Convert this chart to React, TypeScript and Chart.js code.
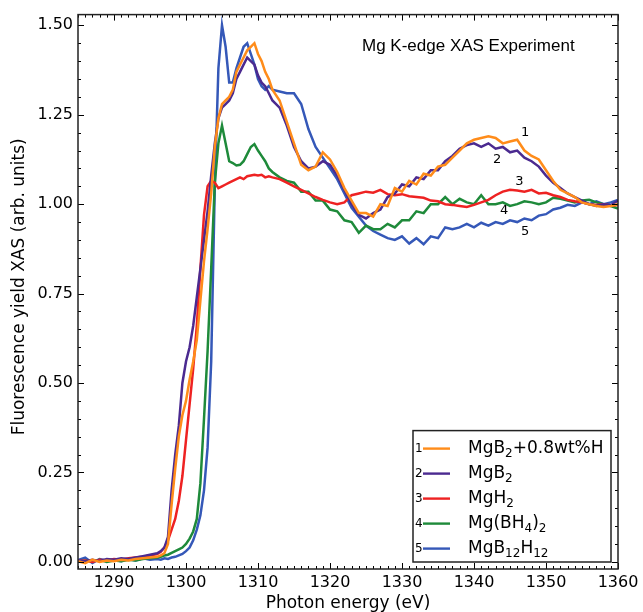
import React, { useEffect, useRef } from "react";
import { Chart, registerables } from "chart.js";

Chart.register(...registerables);

// Photon energy grid (eV)
const energy = [
  1285, 1286, 1287, 1288, 1289, 1290, 1291, 1292, 1293, 1294, 1295,
  1296, 1296.5, 1297, 1297.5, 1298, 1298.5, 1299, 1299.5, 1300, 1300.5, 1301, 1301.5, 1302, 1302.5, 1303, 1303.5,
  1304, 1304.5, 1305, 1305.5, 1306, 1306.5, 1307, 1307.5, 1308, 1308.5, 1309, 1309.5, 1310, 1310.5, 1311, 1311.5, 1312,
  1313, 1314, 1315, 1316, 1317, 1318, 1319, 1320, 1321, 1322, 1323, 1324,
  1325, 1326, 1327, 1328, 1329, 1330, 1331, 1332, 1333, 1334, 1335, 1336,
  1337, 1338, 1339, 1340, 1341, 1342, 1343, 1344, 1345, 1346, 1347, 1348,
  1349, 1350, 1351, 1352, 1353, 1354, 1355, 1356, 1357, 1358, 1359, 1360,
];

// 1: MgB2+0.8wt%H (orange)
const yieldMgB2H = [
  0.002, -0.004, 0.006, 0.0, 0.004, 0.002, 0.006, 0.004, 0.008, 0.01, 0.012,
  0.014, 0.018, 0.024, 0.05, 0.16, 0.26, 0.35, 0.41, 0.45, 0.51, 0.56, 0.62, 0.73, 0.84, 0.93, 1.03,
  1.16, 1.24, 1.28, 1.29, 1.3, 1.32, 1.37, 1.39, 1.41, 1.43, 1.44, 1.45, 1.42, 1.4, 1.37, 1.35, 1.32,
  1.29, 1.23, 1.17, 1.11, 1.095, 1.105, 1.145, 1.125, 1.09, 1.045, 1.01, 0.975,
  0.975, 0.965, 1.0, 0.995, 1.045, 1.035, 1.065, 1.055, 1.085, 1.08, 1.105, 1.11,
  1.13, 1.15, 1.17, 1.18, 1.185, 1.19, 1.185, 1.17, 1.175, 1.18, 1.15, 1.135,
  1.125, 1.095, 1.065, 1.04, 1.03, 1.02, 1.005, 1.0, 0.995, 0.992, 0.995, 1.0,
];

// 2: MgB2 (purple)
const yieldMgB2 = [
  0.004, 0.002, 0.006, 0.002, 0.008, 0.006, 0.01, 0.008, 0.012, 0.016, 0.02,
  0.024, 0.03, 0.04, 0.07, 0.2, 0.3, 0.38, 0.5, 0.56, 0.6, 0.66, 0.74, 0.82, 0.9, 0.98, 1.08,
  1.17, 1.24, 1.27, 1.28, 1.29, 1.31, 1.35, 1.37, 1.39, 1.41, 1.4, 1.39, 1.36, 1.34, 1.33, 1.31, 1.29,
  1.27, 1.22, 1.16, 1.12, 1.1, 1.105, 1.12, 1.11, 1.08, 1.04, 1.0, 0.97,
  0.96, 0.975, 0.985, 1.02, 1.03, 1.055, 1.05, 1.075, 1.07, 1.095, 1.095, 1.12,
  1.135, 1.155, 1.165, 1.17, 1.16, 1.17, 1.155, 1.16, 1.145, 1.15, 1.13, 1.12,
  1.105, 1.08, 1.06, 1.045, 1.03, 1.02, 1.01, 1.0, 0.995, 1.0, 0.997, 1.01,
];

// 3: MgH2 (red)
const yieldMgH2 = [
  0.002, 0.004, 0.0, 0.006, 0.004, 0.008, 0.006, 0.01, 0.012, 0.014, 0.018,
  0.022, 0.028, 0.04, 0.06, 0.09, 0.12, 0.17, 0.24, 0.34, 0.44, 0.54, 0.66, 0.82, 0.97, 1.05, 1.065,
  1.06, 1.045, 1.05, 1.055, 1.06, 1.065, 1.07, 1.075, 1.07, 1.078, 1.08, 1.082, 1.08, 1.082, 1.075, 1.078, 1.075,
  1.07, 1.06, 1.05, 1.04, 1.03, 1.02, 1.012, 1.005, 1.0, 1.005, 1.025, 1.03,
  1.035, 1.032, 1.04, 1.028, 1.025, 1.028, 1.022, 1.02, 1.018, 1.01, 1.008, 1.0,
  0.998, 0.995, 0.992, 0.998, 1.005, 1.012, 1.025, 1.035, 1.04, 1.038, 1.035, 1.04,
  1.03, 1.032, 1.025, 1.02, 1.012, 1.008, 1.005, 1.0, 0.998, 1.0, 0.996, 0.998,
];

// 4: Mg(BH4)2 (green)
const yieldMgBH4 = [
  0.0, 0.004, 0.002, 0.006, 0.0, 0.004, 0.002, 0.006, 0.004, 0.008, 0.01,
  0.012, 0.014, 0.018, 0.02, 0.025, 0.03, 0.035, 0.04, 0.05, 0.065, 0.085, 0.12, 0.22, 0.4, 0.59, 0.82,
  1.06, 1.17, 1.22, 1.17, 1.12, 1.115, 1.108, 1.11, 1.12, 1.14, 1.16, 1.168, 1.15, 1.135, 1.12, 1.1, 1.09,
  1.075, 1.065, 1.06, 1.035, 1.035, 1.01, 1.01, 0.985, 0.98, 0.955, 0.95, 0.92,
  0.94, 0.93, 0.93, 0.945, 0.935, 0.955, 0.955, 0.98, 0.975, 1.0, 1.0, 1.02,
  1.0, 1.015, 1.005, 1.0, 1.025, 1.0, 1.0, 1.005, 0.995, 1.0, 1.008, 1.005,
  1.0, 1.005, 1.018, 1.015, 1.01, 1.005, 1.01, 1.012, 1.005, 1.0, 0.995, 0.988,
];

// 5: MgB12H12 (blue)
const yieldMgB12H12 = [
  0.005, 0.012, -0.003, 0.008, 0.004, 0.006, 0.002, 0.008, 0.004, 0.01, 0.006,
  0.008, 0.006, 0.01, 0.008, 0.012, 0.014, 0.018, 0.022, 0.03, 0.04, 0.06, 0.09, 0.13, 0.2, 0.32, 0.56,
  1.05, 1.38, 1.5, 1.44, 1.34, 1.34, 1.38, 1.41, 1.44, 1.45, 1.42, 1.39, 1.35, 1.33, 1.32, 1.33, 1.32,
  1.315, 1.31, 1.31, 1.28, 1.21, 1.16, 1.13, 1.1, 1.07, 1.03, 0.99, 0.965,
  0.94, 0.925, 0.915, 0.905, 0.9, 0.91, 0.89, 0.905, 0.888, 0.91, 0.905, 0.935,
  0.93, 0.935, 0.945, 0.935, 0.948, 0.94, 0.95, 0.945, 0.955, 0.95, 0.96, 0.955,
  0.968, 0.972, 0.985, 0.99, 0.998, 0.995, 1.005, 1.0, 1.008, 1.0, 1.005, 1.012,
];

const xTicks = [1290, 1300, 1310, 1320, 1330, 1340, 1350, 1360];
const yTicks = [0, 0.25, 0.5, 0.75, 1.0, 1.25, 1.5];

const seriesColors = ["#ff8c1a", "#4b2a90", "#ee2222", "#1e8a3a", "#3558b8"];
const seriesNumbers = ["1", "2", "3", "4", "5"];
// legend label runs: [text, isSubscript]
const legendLabels: [string, boolean][][] = [
  [["MgB", false], ["2", true], ["+0.8wt%H", false]],
  [["MgB", false], ["2", true]],
  [["MgH", false], ["2", true]],
  [["Mg(BH", false], ["4", true], [")", false], ["2", true]],
  [["MgB", false], ["12", true], ["H", false], ["12", true]],
];
// curve number annotations in data coordinates
const curveLabelEnergy = [1347.1, 1343.2, 1346.3, 1344.2, 1347.1];
const curveLabelYield = [1.199, 1.124, 1.063, 0.982, 0.923];

const chartTitle = "Mg K-edge XAS Experiment";
const xTitle = "Photon energy (eV)";
const yTitle = "Fluorescence yield XAS (arb. units)";

const FONT = "'DejaVu Sans', sans-serif";

const overlayPlugin = {
  id: "overlay",
  afterDraw(chart: any) {
    const { ctx, chartArea: a, scales } = chart;
    const x = scales.x;
    const y = scales.y;
    ctx.save();

    // inward ticks on all sides
    ctx.strokeStyle = "#000";
    ctx.lineWidth = 1;
    ctx.beginPath();
    for (let e = 1285; e <= 1360; e += 1) {
      const px = Math.round(x.getPixelForValue(e)) + 0.5;
      const len = e % 10 === 0 ? 6 : 3;
      ctx.moveTo(px, a.bottom);
      ctx.lineTo(px, a.bottom - len);
      ctx.moveTo(px, a.top);
      ctx.lineTo(px, a.top + len);
    }
    for (let k = 0; k <= 30; k++) {
      const v = k * 0.05;
      const py = Math.round(y.getPixelForValue(v)) + 0.5;
      const len = k % 5 === 0 ? 6 : 3;
      ctx.moveTo(a.left, py);
      ctx.lineTo(a.left + len, py);
      ctx.moveTo(a.right, py);
      ctx.lineTo(a.right - len, py);
    }
    ctx.stroke();

    // frame
    ctx.lineWidth = 1.5;
    ctx.strokeStyle = "#222";
    ctx.strokeRect(a.left, a.top, a.right - a.left, a.bottom - a.top);

    // title
    ctx.fillStyle = "#000";
    ctx.font = "17px 'Liberation Sans', Arial, sans-serif";
    ctx.textAlign = "left";
    ctx.textBaseline = "middle";
    ctx.fillText(chartTitle, a.left + 284, a.top + 32);

    // curve number labels
    ctx.font = "13px " + FONT;
    ctx.textAlign = "center";
    ctx.textBaseline = "middle";
    for (let i = 0; i < seriesNumbers.length; i++) {
      ctx.fillText(
        seriesNumbers[i],
        x.getPixelForValue(curveLabelEnergy[i]),
        y.getPixelForValue(curveLabelYield[i])
      );
    }

    // axis titles
    ctx.font = "17px " + FONT;
    ctx.textAlign = "center";
    ctx.textBaseline = "middle";
    ctx.fillText(xTitle, (a.left + a.right) / 2, a.bottom + 35);
    ctx.save();
    ctx.translate(20, (a.top + a.bottom) / 2 - 5);
    ctx.rotate(-Math.PI / 2);
    ctx.fillText(yTitle, 0, 0);
    ctx.restore();

    // legend
    const bl = a.right - 205;
    const br = a.right - 7;
    const bt = a.top + 416;
    const bb = a.bottom - 7;
    ctx.fillStyle = "#fff";
    ctx.fillRect(bl, bt, br - bl, bb - bt);
    ctx.strokeStyle = "#222";
    ctx.lineWidth = 1.5;
    ctx.strokeRect(bl, bt, br - bl, bb - bt);
    for (let i = 0; i < legendLabels.length; i++) {
      const ry = bt + 18 + i * 25;
      ctx.fillStyle = "#000";
      ctx.font = "12px " + FONT;
      ctx.textAlign = "left";
      ctx.textBaseline = "middle";
      ctx.fillText(seriesNumbers[i], bl + 2, ry);
      ctx.strokeStyle = seriesColors[i];
      ctx.lineWidth = 2.4;
      ctx.beginPath();
      ctx.moveTo(bl + 10, ry);
      ctx.lineTo(bl + 37, ry);
      ctx.stroke();
      let tx = bl + 55;
      for (const [txt, sub] of legendLabels[i]) {
        ctx.font = (sub ? "12px " : "17px ") + FONT;
        ctx.fillText(txt, tx, sub ? ry + 5 : ry);
        tx += ctx.measureText(txt).width;
      }
    }
    ctx.restore();
  },
};

export default function App() {
  const canvasRef = useRef<HTMLCanvasElement | null>(null);

  useEffect(() => {
    const canvas = canvasRef.current;
    if (!canvas) return;
    const series = [yieldMgB2H, yieldMgB2, yieldMgH2, yieldMgBH4, yieldMgB12H12];
    const chart = new Chart(canvas, {
      type: "line",
      data: {
        datasets: series.map((ys, i) => ({
          label: seriesNumbers[i],
          data: energy.map((e, j) => ({ x: e, y: ys[j] })),
          borderColor: seriesColors[i],
          backgroundColor: seriesColors[i],
          borderWidth: 2.5,
          pointRadius: 0,
          tension: 0,
          fill: false,
        })),
      },
      options: {
        responsive: false,
        animation: false,
        devicePixelRatio: 1,
        layout: { padding: { left: 0, top: 11, right: 25, bottom: 0 } },
        plugins: { legend: { display: false }, tooltip: { enabled: false } },
        scales: {
          x: {
            type: "linear",
            min: 1285,
            max: 1360,
            grid: { display: false, drawTicks: false },
            border: { display: false },
            afterBuildTicks: (s: any) => {
              s.ticks = xTicks.map((value) => ({ value }));
            },
            afterFit: (s: any) => {
              s.height = 43;
            },
            ticks: {
              color: "#000",
              font: { family: FONT, size: 16 },
              padding: 4,
              maxRotation: 0,
              autoSkip: false,
              callback: (v: any) => String(v),
            },
          },
          y: {
            type: "linear",
            min: -0.02,
            max: 1.53,
            grid: { display: false, drawTicks: false },
            border: { display: false },
            afterBuildTicks: (s: any) => {
              s.ticks = yTicks.map((value) => ({ value }));
            },
            afterFit: (s: any) => {
              s.width = 78;
            },
            ticks: {
              color: "#000",
              font: { family: FONT, size: 16 },
              padding: 5,
              autoSkip: false,
              callback: (v: any) => Number(v).toFixed(2),
            },
          },
        },
      },
      plugins: [overlayPlugin],
    });
    return () => chart.destroy();
  }, []);

  return (
    <div style={{ position: "fixed", left: 0, top: 0, width: 643, height: 612, background: "#fff" }}>
      <canvas ref={canvasRef} width={643} height={612} style={{ width: 643, height: 612, display: "block" }} />
    </div>
  );
}
